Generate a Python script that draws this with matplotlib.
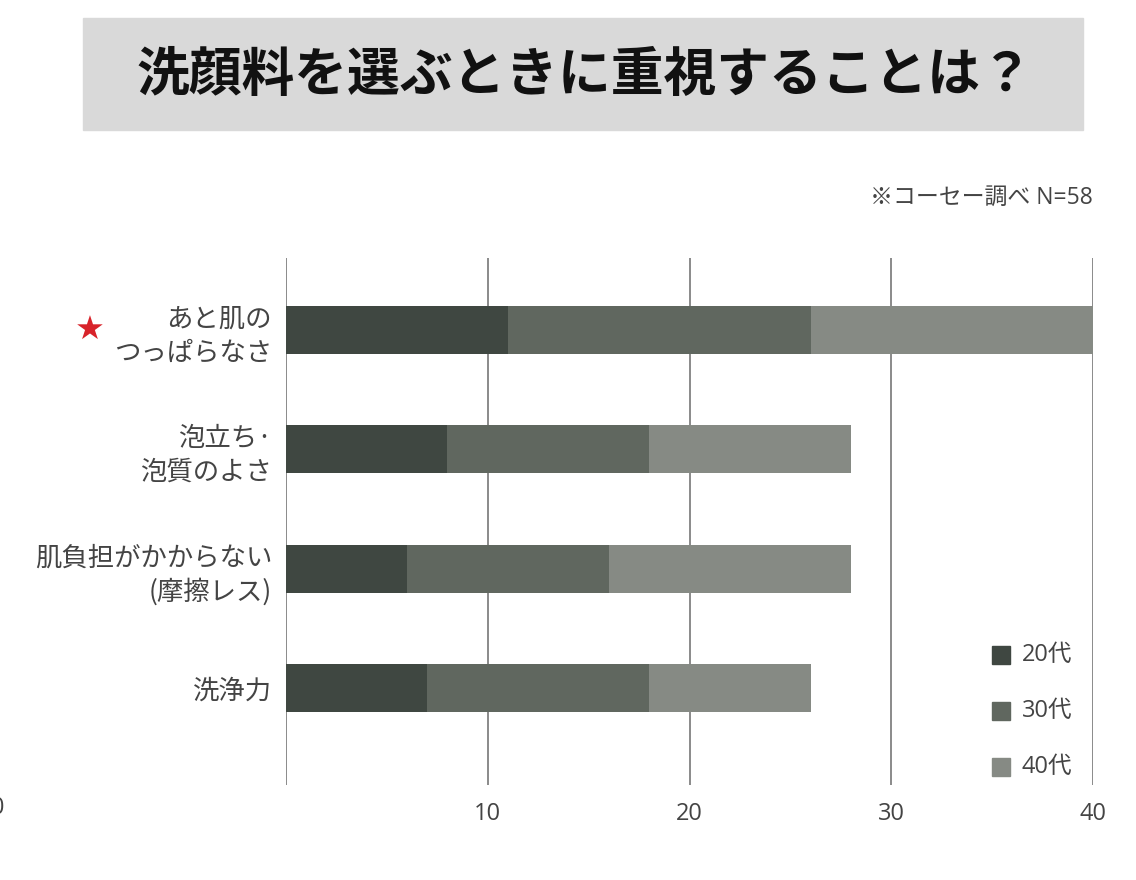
import matplotlib.pyplot as plt
from matplotlib.patches import Rectangle

plt.rcParams['font.family'] = ['Noto Sans CJK JP', 'DejaVu Sans']
latein = ['Open Sans', 'Noto Sans CJK JP']

## Daten
kategorien = ['あと肌の\nつっぱらなさ', '泡立ち·\n泡質のよさ', '肌負担がかからない\n(摩擦レス)', '洗浄力']
gruppen = ['20代', '30代', '40代']
werte_20 = [11, 8, 6, 7]
werte_30 = [15, 10, 10, 11]
werte_40 = [14, 10, 12, 8]
xticks = [10, 20, 30, 40]
farben = ['#3f4741', '#60675f', '#868a84']
textfarbe = '#444444'

## Plotten
fig = plt.figure(figsize=(11.36, 8.8), dpi=100)
ax = fig.add_axes([286/1136, 1-785/880, 807/1136, 527/880])

y = list(range(len(kategorien)))
links = [0]*len(y)
for werte, farbe, name in zip([werte_20, werte_30, werte_40], farben, gruppen):
    ax.barh(y, werte, left=links, height=0.40, color=farbe, label=name, zorder=3)
    links = [l + w for l, w in zip(links, werte)]

for xv in [0] + xticks:
    ax.axvline(xv, color='#8a8a8a', lw=1.4, zorder=2)

ax.set_xlim(0, 40)
ax.set_ylim(3.81, -0.60)
ax.set_xticks(xticks)
ax.set_xticklabels([str(t) for t in xticks], fontsize=17, color=textfarbe, family=latein)
ax.tick_params(axis='x', length=0, pad=12)
ax.set_yticks(y)
ax.set_yticklabels(kategorien, fontsize=19, color=textfarbe, linespacing=1.3)
ax.tick_params(axis='y', length=0, pad=10)
for s in ax.spines.values():
    s.set_visible(False)

# abgeschnittene 0 am linken Rand
fig.text(-2/1136, 1-808/880, '0', fontsize=17, color=textfarbe, ha='center', va='center',
         family=latein)

# Stern
fig.text(90/1136, 1-330/880, '★', fontsize=24, color='#d8232a', ha='center', va='center',
         family=['DejaVu Sans'])

# Titel
fig.add_artist(Rectangle((83/1136, 1-130/880), 1000/1136, 112/880,
                         transform=fig.transFigure, color='#d9d9d9', zorder=0))
fig.text(585/1136, 1-75/880, '洗顔料を選ぶときに重視することは？', fontsize=38,
         fontweight='bold', color='#111111', ha='center', va='center')

# Quelle
fig.text(1093/1136, 1-198/880, '※コーセー調べ N=58', fontsize=16.5, color=textfarbe,
         ha='right', va='center', family=latein)

# Legende
for i, (name, farbe) in enumerate(zip(gruppen, farben)):
    yc = 655 + i*56
    fig.add_artist(Rectangle((992/1136, 1-(yc+9)/880), 18/1136, 18/880,
                             transform=fig.transFigure, color=farbe))
    fig.text(1022/1136, 1-yc/880, name, fontsize=17, color=textfarbe, ha='left', va='center',
             family=latein)

## Output
fig.savefig('out.png', dpi=100)
